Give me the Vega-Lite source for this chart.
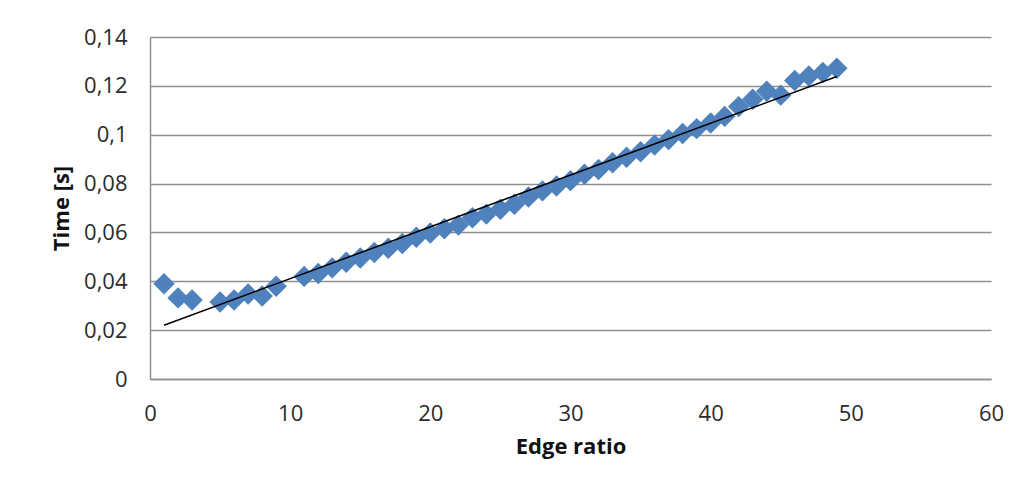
{
  "$schema": "https://vega.github.io/schema/vega-lite/v6.json",
  "width": 841,
  "height": 342,
  "autosize": {"type": "none"},
  "padding": {"left": 150, "top": 37, "right": 31, "bottom": 119},
  "background": "white",
  "config": {
    "view": {"stroke": null},
    "font": "Open Sans",
    "axis": {
      "labelFont": "Open Sans",
      "labelFontSize": 22,
      "labelColor": "#2b2b2b",
      "titleFont": "Open Sans",
      "titleFontSize": 22,
      "titleFontWeight": "bold",
      "titleColor": "#111111",
      "domainColor": "#8f8f8f",
      "domainWidth": 1.5,
      "gridColor": "#8f8f8f",
      "gridWidth": 1.5,
      "ticks": false
    }
  },
  "data": {
    "values": [
      {"x": 1, "y": 0.0390}, {"x": 2, "y": 0.0332}, {"x": 3, "y": 0.0323},
      {"x": 5, "y": 0.0315}, {"x": 6, "y": 0.0323}, {"x": 7, "y": 0.0348},
      {"x": 8, "y": 0.0340}, {"x": 9, "y": 0.0380}, {"x": 11, "y": 0.0420},
      {"x": 12, "y": 0.0432}, {"x": 13, "y": 0.0455}, {"x": 14, "y": 0.0478},
      {"x": 15, "y": 0.0495}, {"x": 16, "y": 0.0518}, {"x": 17, "y": 0.0535},
      {"x": 18, "y": 0.0555}, {"x": 19, "y": 0.0580}, {"x": 20, "y": 0.0598},
      {"x": 21, "y": 0.0615}, {"x": 22, "y": 0.0630}, {"x": 23, "y": 0.0660},
      {"x": 24, "y": 0.0675}, {"x": 25, "y": 0.0695}, {"x": 26, "y": 0.0715},
      {"x": 27, "y": 0.0745}, {"x": 28, "y": 0.0770}, {"x": 29, "y": 0.0790},
      {"x": 30, "y": 0.0812}, {"x": 31, "y": 0.0838}, {"x": 32, "y": 0.0858},
      {"x": 33, "y": 0.0885}, {"x": 34, "y": 0.0908}, {"x": 35, "y": 0.0930},
      {"x": 36, "y": 0.0958}, {"x": 37, "y": 0.0980}, {"x": 38, "y": 0.1005},
      {"x": 39, "y": 0.1025}, {"x": 40, "y": 0.1048}, {"x": 41, "y": 0.1075},
      {"x": 42, "y": 0.1115}, {"x": 43, "y": 0.1145}, {"x": 44, "y": 0.1178},
      {"x": 45, "y": 0.1162}, {"x": 46, "y": 0.1222}, {"x": 47, "y": 0.1240},
      {"x": 48, "y": 0.1255}, {"x": 49, "y": 0.1272}
    ]
  },
  "encoding": {
    "x": {
      "field": "x",
      "type": "quantitative",
      "title": "Edge ratio",
      "scale": {"domain": [0, 60], "nice": false, "zero": false},
      "axis": {
        "values": [0, 10, 20, 30, 40, 50, 60],
        "grid": false,
        "labelPadding": 24,
        "titlePadding": 12,
        "labelFlush": false
      }
    },
    "y": {
      "field": "y",
      "type": "quantitative",
      "title": "Time [s]",
      "scale": {"domain": [0, 0.14], "nice": false},
      "axis": {
        "values": [0, 0.02, 0.04, 0.06, 0.08, 0.1, 0.12, 0.14],
        "format": "~g",
        "labelExpr": "replace(datum.label, '.', ',')",
        "labelPadding": 23,
        "titlePadding": 10,
        "labelFlush": false
      }
    }
  },
  "layer": [
    {
      "mark": {"type": "point", "shape": "diamond", "filled": true, "size": 460, "opacity": 1, "color": "#4f81bd", "strokeWidth": 0}
    },
    {
      "transform": [{"regression": "y", "on": "x", "method": "linear"}],
      "mark": {"type": "line", "color": "#000000", "strokeWidth": 1.5}
    }
  ]
}
